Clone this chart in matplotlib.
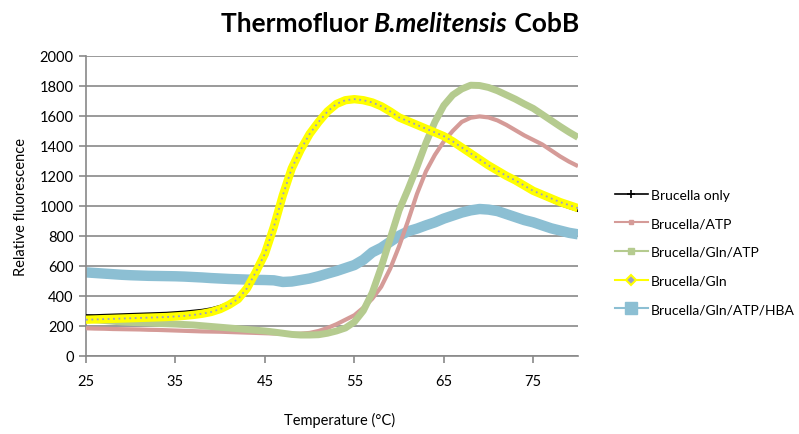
import numpy as np
import matplotlib
matplotlib.use("Agg")
import matplotlib.pyplot as plt
from matplotlib.lines import Line2D

plt.rcParams['font.family'] = ['Lato', 'DejaVu Sans']

temps = list(range(25, 81))

gln = [240, 242, 244, 246, 248, 250, 252, 254, 256, 258,
       262, 266, 272, 280, 292, 311, 340, 378, 450, 560,
       680, 860, 1070, 1250, 1375, 1480, 1560, 1630, 1680, 1705,
       1712, 1705, 1690, 1665, 1630, 1590, 1565, 1540, 1515, 1490,
       1465, 1430, 1390, 1350, 1310, 1270, 1235, 1200, 1170, 1135,
       1100, 1075, 1050, 1025, 1005, 985]

only = [268, 268, 270, 272, 274, 276, 278, 280, 282, 284,
        288, 292, 298, 304, 314, 330, 352, 385, 455, 562,
        680, 858, 1068, 1248, 1375, 1480, 1560, 1630, 1680, 1705,
        1710, 1703, 1688, 1663, 1628, 1588, 1562, 1537, 1512, 1487,
        1460, 1425, 1385, 1345, 1305, 1265, 1228, 1192, 1160, 1125,
        1090, 1062, 1035, 1008, 988, 968]

atp = [183, 181, 180, 178, 177, 176, 175, 173, 172, 170,
       168, 166, 164, 162, 161, 160, 158, 156, 154, 152,
       150, 148, 146, 145, 147, 152, 165, 185, 210, 240,
       270, 320, 380, 460, 580, 730, 900, 1080, 1230, 1340,
       1430, 1500, 1560, 1588, 1597, 1590, 1570, 1540, 1505, 1470,
       1440, 1410, 1370, 1330, 1295, 1265]

gln_atp = [245, 240, 235, 230, 225, 222, 220, 218, 215, 213,
           211, 208, 205, 200, 195, 190, 185, 180, 175, 170,
           165, 158, 150, 142, 138, 138, 140, 150, 165, 185,
           225, 300, 420, 590, 780, 970, 1110, 1260, 1420, 1560,
           1670, 1740, 1780, 1805, 1803, 1790, 1768, 1740, 1712, 1680,
           1650, 1610, 1570, 1530, 1492, 1457]

hba = [556, 552, 548, 544, 540, 537, 535, 533, 532, 531,
       530, 528, 525, 522, 518, 515, 512, 510, 508, 506,
       505, 503, 492, 495, 505, 515, 530, 548, 565, 585,
       605, 640, 690, 720, 760, 800, 830, 848, 870, 890,
       915, 935, 955, 970, 979, 975, 965, 945, 925, 905,
       890, 870, 850, 835, 820, 810]

names = ['Brucella only', 'Brucella/ATP', 'Brucella/Gln/ATP',
         'Brucella/Gln', 'Brucella/Gln/ATP/HBA']

black = 'black'
red = '#D59B98'
green = '#B5CB8F'
yellow = '#FFFF00'
blue = '#8CBFD3'
lavender = '#9A9ACF'
grid_col = '#898989'

fig = plt.figure(figsize=(7.99, 4.35), dpi=100)
ax = fig.add_axes([86 / 799, 1 - 356.7 / 435, (578 - 86) / 799, (356.7 - 57) / 435])

ax.plot(temps, hba, color=blue, lw=7.5, solid_capstyle='butt', zorder=2)
ax.plot(temps, atp, color=red, lw=3, solid_capstyle='butt', zorder=3)
ax.plot(temps, gln_atp, color=green, lw=5, solid_capstyle='butt', zorder=4)
ax.plot(temps, only, color=black, lw=2, zorder=5)
ax.plot(temps, gln, color=yellow, lw=6, solid_capstyle='butt', zorder=6)
ax.plot(temps, gln, color=lavender, lw=1.3, ls=(0, (1, 2)), zorder=7)

ax.set_xlim(25, 80)
ax.set_ylim(0, 2000)
ax.set_xticks([25, 35, 45, 55, 65, 75])
ax.set_yticks(np.arange(0, 2001, 200))
ax.yaxis.grid(True, color=grid_col, lw=1.2)
ax.set_axisbelow(True)
for s in ['top', 'right']:
    ax.spines[s].set_visible(False)
for s in ['left', 'bottom']:
    ax.spines[s].set_color(grid_col)
    ax.spines[s].set_linewidth(1.2)
ax.tick_params(axis='both', direction='out', length=5, color=grid_col,
               width=1.2, labelsize=10.5, pad=4)
ax.tick_params(axis='x', pad=8)

ax.set_ylabel('Relative fluorescence', fontsize=10.5, labelpad=8)
fig.text(340 / 799, 1 - 420 / 435, 'Temperature (°C)', ha='center',
         va='center', fontsize=10.5)

handles = [
    Line2D([], [], color=black, lw=1.2, marker='+', ms=6, mew=1.2),
    Line2D([], [], color=red, lw=1.5, marker='s', ms=3.5, mec=red),
    Line2D([], [], color=green, lw=1.5, marker='s', ms=4, mec=green),
    Line2D([], [], color=yellow, lw=1.5, marker='D', ms=5, mfc=lavender, mec=yellow, mew=1.5),
    Line2D([], [], color=blue, lw=1.5, marker='s', ms=8, mec=blue),
]
fig.legend(handles, names, loc='center left', bbox_to_anchor=(609 / 799, 1 - 253 / 435),
           frameon=False, fontsize=10, labelspacing=1.2, handlelength=2.4,
           handletextpad=0.2, borderaxespad=0)

# title with italic species name
parts = [('Thermofluor ', 'normal'), ('B.melitensis', 'italic'), (' CobB', 'normal')]
fig.canvas.draw()
r = fig.canvas.get_renderer()
texts = []
for s, st in parts:
    t = fig.text(0, 1 - 32 / 435, s, fontsize=19, fontweight='bold', style=st, va='baseline')
    texts.append(t)
widths = [t.get_window_extent(r).width for t in texts]
x = 400 - sum(widths) / 2
for t, w in zip(texts, widths):
    t.set_x(x / 799)
    x += w

fig.savefig('out.png', dpi=100)
